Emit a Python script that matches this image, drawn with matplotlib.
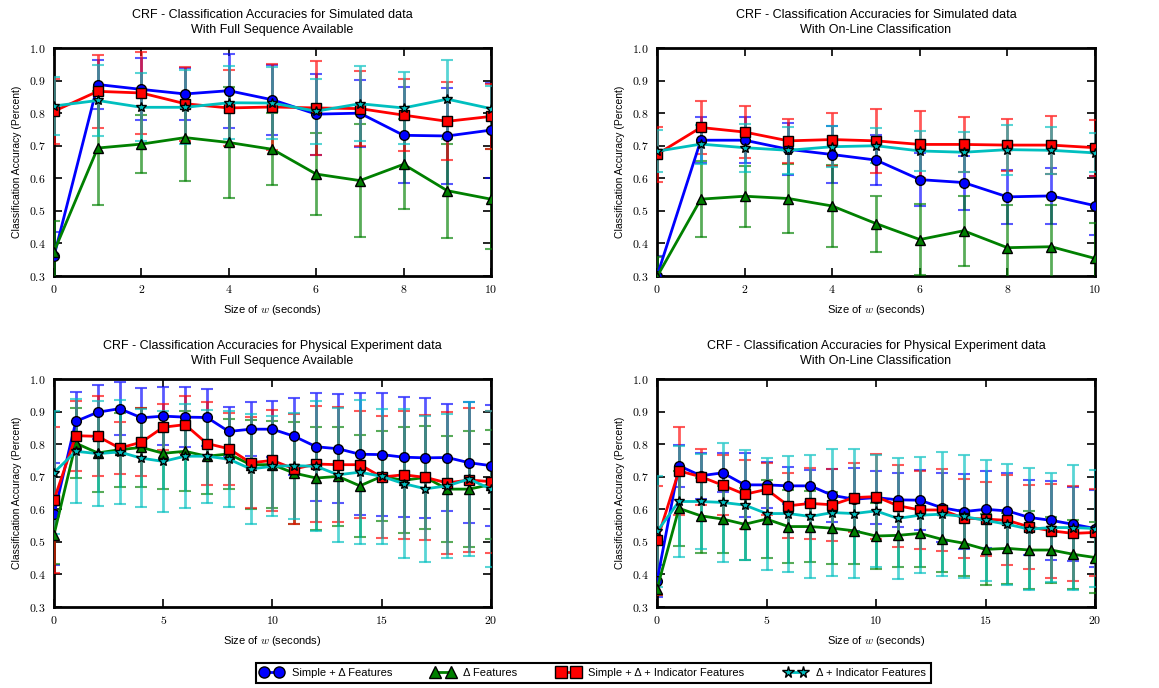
"""
CRF classification accuracies vs window size, simulated and physical data.
"""

import matplotlib
matplotlib.use('Agg')
import matplotlib.pyplot as plt
from matplotlib.ticker import FuncFormatter
from matplotlib.lines import Line2D

plt.rcParams['font.family'] = ['Liberation Sans', 'DejaVu Sans']
plt.rcParams['mathtext.fontset'] = 'cm'
plt.rcParams['font.size'] = 8
plt.rcParams['axes.linewidth'] = 2.0
plt.rcParams['xtick.direction'] = 'in'
plt.rcParams['ytick.direction'] = 'in'
plt.rcParams['xtick.top'] = True
plt.rcParams['ytick.right'] = True
plt.rcParams['xtick.major.size'] = 5.5
plt.rcParams['ytick.major.size'] = 5.5
plt.rcParams['xtick.major.width'] = 1.2
plt.rcParams['ytick.major.width'] = 1.2
plt.rcParams['xtick.major.pad'] = 6
plt.rcParams['ytick.major.pad'] = 6

x_short = list(range(11))
x_long = list(range(21))

# --- simulated data, full sequence available ---
sim_full_simple = [0.361, 0.888, 0.873, 0.859, 0.869, 0.841, 0.797, 0.800, 0.732, 0.730, 0.748]
sim_full_simple_err = [0.073, 0.075, 0.095, 0.079, 0.114, 0.107, 0.124, 0.103, 0.147, 0.146, 0.146]
sim_full_delta = [0.375, 0.693, 0.705, 0.725, 0.710, 0.689, 0.613, 0.593, 0.643, 0.562, 0.536]
sim_full_delta_err = [0.094, 0.174, 0.089, 0.134, 0.170, 0.110, 0.127, 0.173, 0.138, 0.144, 0.154]
sim_full_ind = [0.806, 0.867, 0.862, 0.829, 0.816, 0.819, 0.816, 0.814, 0.794, 0.775, 0.790]
sim_full_ind_err = [0.100, 0.112, 0.125, 0.113, 0.118, 0.131, 0.143, 0.114, 0.110, 0.120, 0.100]
sim_full_dind = [0.822, 0.839, 0.818, 0.818, 0.832, 0.831, 0.806, 0.829, 0.816, 0.843, 0.814]
sim_full_dind_err = [0.090, 0.110, 0.104, 0.114, 0.112, 0.111, 0.100, 0.115, 0.110, 0.121, 0.070]

# --- simulated data, on-line classification ---
sim_online_simple = [0.300, 0.717, 0.717, 0.689, 0.673, 0.656, 0.596, 0.587, 0.543, 0.546, 0.516]
sim_online_simple_err = [0.060, 0.070, 0.070, 0.080, 0.087, 0.076, 0.081, 0.083, 0.082, 0.087, 0.091]
sim_online_delta = [0.298, 0.536, 0.545, 0.538, 0.515, 0.461, 0.412, 0.439, 0.387, 0.390, 0.354]
sim_online_delta_err = [0.060, 0.116, 0.094, 0.107, 0.125, 0.086, 0.109, 0.107, 0.131, 0.128, 0.110]
sim_online_ind = [0.674, 0.756, 0.742, 0.715, 0.719, 0.715, 0.704, 0.704, 0.702, 0.702, 0.694]
sim_online_ind_err = [0.084, 0.082, 0.079, 0.068, 0.080, 0.098, 0.103, 0.084, 0.081, 0.089, 0.086]
sim_online_dind = [0.683, 0.705, 0.694, 0.686, 0.697, 0.700, 0.684, 0.680, 0.688, 0.686, 0.678]
sim_online_dind_err = [0.065, 0.060, 0.074, 0.073, 0.063, 0.053, 0.061, 0.062, 0.077, 0.072, 0.060]

# --- physical experiment, full sequence available ---
phys_full_simple = [0.585, 0.870, 0.898, 0.909, 0.881, 0.886, 0.883, 0.882, 0.839, 0.846, 0.846,
                    0.824, 0.792, 0.786, 0.769, 0.768, 0.760, 0.758, 0.759, 0.743, 0.734]
phys_full_simple_err = [0.156, 0.089, 0.083, 0.082, 0.090, 0.088, 0.091, 0.087, 0.075, 0.083, 0.086,
                        0.118, 0.165, 0.167, 0.187, 0.188, 0.184, 0.184, 0.165, 0.186, 0.186]
phys_full_delta = [0.522, 0.803, 0.773, 0.783, 0.790, 0.772, 0.778, 0.763, 0.770, 0.737, 0.737,
                   0.711, 0.696, 0.701, 0.672, 0.701, 0.689, 0.698, 0.662, 0.662, 0.676]
phys_full_delta_err = [0.090, 0.107, 0.120, 0.113, 0.120, 0.110, 0.123, 0.116, 0.107, 0.137, 0.133,
                       0.156, 0.158, 0.153, 0.157, 0.138, 0.163, 0.159, 0.162, 0.177, 0.167]
phys_full_ind = [0.629, 0.826, 0.824, 0.788, 0.806, 0.852, 0.860, 0.802, 0.786, 0.743, 0.750,
                 0.724, 0.739, 0.737, 0.737, 0.699, 0.706, 0.698, 0.681, 0.690, 0.685]
phys_full_ind_err = [0.224, 0.107, 0.123, 0.079, 0.105, 0.070, 0.087, 0.126, 0.110, 0.140, 0.155,
                     0.170, 0.177, 0.176, 0.165, 0.187, 0.197, 0.191, 0.217, 0.220, 0.218]
phys_full_dind = [0.713, 0.778, 0.771, 0.776, 0.757, 0.747, 0.763, 0.763, 0.754, 0.724, 0.732,
                  0.734, 0.732, 0.706, 0.714, 0.701, 0.679, 0.663, 0.672, 0.693, 0.662]
phys_full_dind_err = [0.190, 0.160, 0.160, 0.160, 0.150, 0.155, 0.160, 0.143, 0.147, 0.170, 0.154,
                      0.163, 0.200, 0.205, 0.222, 0.207, 0.230, 0.224, 0.220, 0.236, 0.240]

# --- physical experiment, on-line classification ---
phys_online_simple = [0.380, 0.734, 0.703, 0.712, 0.675, 0.675, 0.672, 0.672, 0.643, 0.631, 0.636,
                      0.629, 0.628, 0.605, 0.593, 0.600, 0.595, 0.575, 0.566, 0.554, 0.541]
phys_online_simple_err = [0.050, 0.064, 0.070, 0.060, 0.098, 0.070, 0.057, 0.050, 0.082, 0.097, 0.082,
                          0.084, 0.093, 0.105, 0.115, 0.118, 0.116, 0.114, 0.121, 0.113, 0.119]
phys_online_delta = [0.356, 0.603, 0.580, 0.570, 0.554, 0.570, 0.547, 0.547, 0.542, 0.534, 0.518,
                     0.520, 0.526, 0.508, 0.496, 0.477, 0.480, 0.475, 0.475, 0.462, 0.452]
phys_online_delta_err = [0.020, 0.115, 0.115, 0.103, 0.111, 0.121, 0.111, 0.108, 0.111, 0.103, 0.100,
                         0.096, 0.102, 0.102, 0.101, 0.110, 0.110, 0.121, 0.100, 0.106, 0.108]
phys_online_ind = [0.505, 0.718, 0.700, 0.674, 0.646, 0.661, 0.611, 0.618, 0.614, 0.636, 0.639,
                   0.611, 0.598, 0.598, 0.573, 0.570, 0.566, 0.546, 0.534, 0.526, 0.529]
phys_online_ind_err = [0.167, 0.135, 0.086, 0.092, 0.105, 0.080, 0.100, 0.110, 0.111, 0.107, 0.131,
                       0.126, 0.119, 0.125, 0.121, 0.113, 0.138, 0.130, 0.144, 0.146, 0.134]
phys_online_dind = [0.532, 0.624, 0.624, 0.621, 0.613, 0.587, 0.587, 0.578, 0.590, 0.587, 0.595,
                    0.572, 0.582, 0.585, 0.578, 0.566, 0.554, 0.539, 0.544, 0.544, 0.541]
phys_online_dind_err = [0.170, 0.170, 0.146, 0.183, 0.170, 0.172, 0.178, 0.190, 0.194, 0.198, 0.172,
                        0.186, 0.179, 0.190, 0.188, 0.186, 0.186, 0.187, 0.167, 0.192, 0.180]

labels = ['Simple + \u0394 Features', '\u0394 Features',
          'Simple + \u0394 + Indicator Features', '\u0394 + Indicator Features']
colors = ['#0000FF', '#008000', '#FF0000', '#00BFBF']
markers = ['o', '^', 's', '*']
msizes = [7, 7, 7, 7.5]


def draw_panel(ax, x, series, title, xticks):
    for i, (mean, err) in enumerate(series):
        ax.errorbar(x, mean, yerr=err, fmt='none', ecolor=colors[i], alpha=0.65,
                    elinewidth=2, capsize=4.5, capthick=1.5, zorder=2 + i)
    for i, (mean, err) in enumerate(series):
        ax.plot(x, mean, color=colors[i], marker=markers[i], markersize=msizes[i],
                markeredgecolor='black', markeredgewidth=1.0, linewidth=2, zorder=10 + i)
    ax.set_xlim(x[0], x[-1])
    ax.set_ylim(0.3, 1.0)
    ax.set_xticks(xticks)
    ax.set_yticks([0.3, 0.4, 0.5, 0.6, 0.7, 0.8, 0.9, 1.0])
    ax.xaxis.set_major_formatter(FuncFormatter(lambda v, p: r'$%d$' % v))
    ax.yaxis.set_major_formatter(FuncFormatter(lambda v, p: r'$%.1f$' % v))
    ax.tick_params(labelsize=8.5)
    ax.set_xlabel(r'Size of $w$ (seconds)', fontsize=8, labelpad=5)
    ax.set_ylabel('Classification Accuracy (Percent)', fontsize=7.5, labelpad=5)
    ax.set_title(title, fontsize=9, pad=11, linespacing=1.35)


fig = plt.figure(figsize=(11.59, 6.88), dpi=100)
ax_tl = fig.add_axes([0.0466, 0.5988, 0.3770, 0.3314])
ax_tr = fig.add_axes([0.5669, 0.5988, 0.3779, 0.3314])
ax_bl = fig.add_axes([0.0466, 0.1177, 0.3770, 0.3314])
ax_br = fig.add_axes([0.5669, 0.1177, 0.3779, 0.3314])

draw_panel(ax_tl, x_short,
           [(sim_full_simple, sim_full_simple_err), (sim_full_delta, sim_full_delta_err),
            (sim_full_ind, sim_full_ind_err), (sim_full_dind, sim_full_dind_err)],
           'CRF - Classification Accuracies for Simulated data\nWith Full Sequence Available',
           [0, 2, 4, 6, 8, 10])
draw_panel(ax_tr, x_short,
           [(sim_online_simple, sim_online_simple_err), (sim_online_delta, sim_online_delta_err),
            (sim_online_ind, sim_online_ind_err), (sim_online_dind, sim_online_dind_err)],
           'CRF - Classification Accuracies for Simulated data\nWith On-Line Classification',
           [0, 2, 4, 6, 8, 10])
draw_panel(ax_bl, x_long,
           [(phys_full_simple, phys_full_simple_err), (phys_full_delta, phys_full_delta_err),
            (phys_full_ind, phys_full_ind_err), (phys_full_dind, phys_full_dind_err)],
           'CRF - Classification Accuracies for Physical Experiment data\nWith Full Sequence Available',
           [0, 5, 10, 15, 20])
draw_panel(ax_br, x_long,
           [(phys_online_simple, phys_online_simple_err), (phys_online_delta, phys_online_delta_err),
            (phys_online_ind, phys_online_ind_err), (phys_online_dind, phys_online_dind_err)],
           'CRF - Classification Accuracies for Physical Experiment data\nWith On-Line Classification',
           [0, 5, 10, 15, 20])

handles = [Line2D([], [], color=colors[i], marker=markers[i], markersize=msizes[i] + 1,
                  markeredgecolor='black', markeredgewidth=1.0, linewidth=2)
           for i in range(4)]
leg = fig.legend(handles, labels, loc='center', bbox_to_anchor=(0.5117, 0.0218), ncol=4,
                 numpoints=2, fontsize=8, fancybox=False, frameon=True, handlelength=2.0,
                 handletextpad=0.8, columnspacing=3.6, borderpad=0.45)
leg.get_frame().set_edgecolor('black')
leg.get_frame().set_linewidth(1.5)
leg.get_frame().set_alpha(1.0)

fig.savefig('out.png', dpi=100)
